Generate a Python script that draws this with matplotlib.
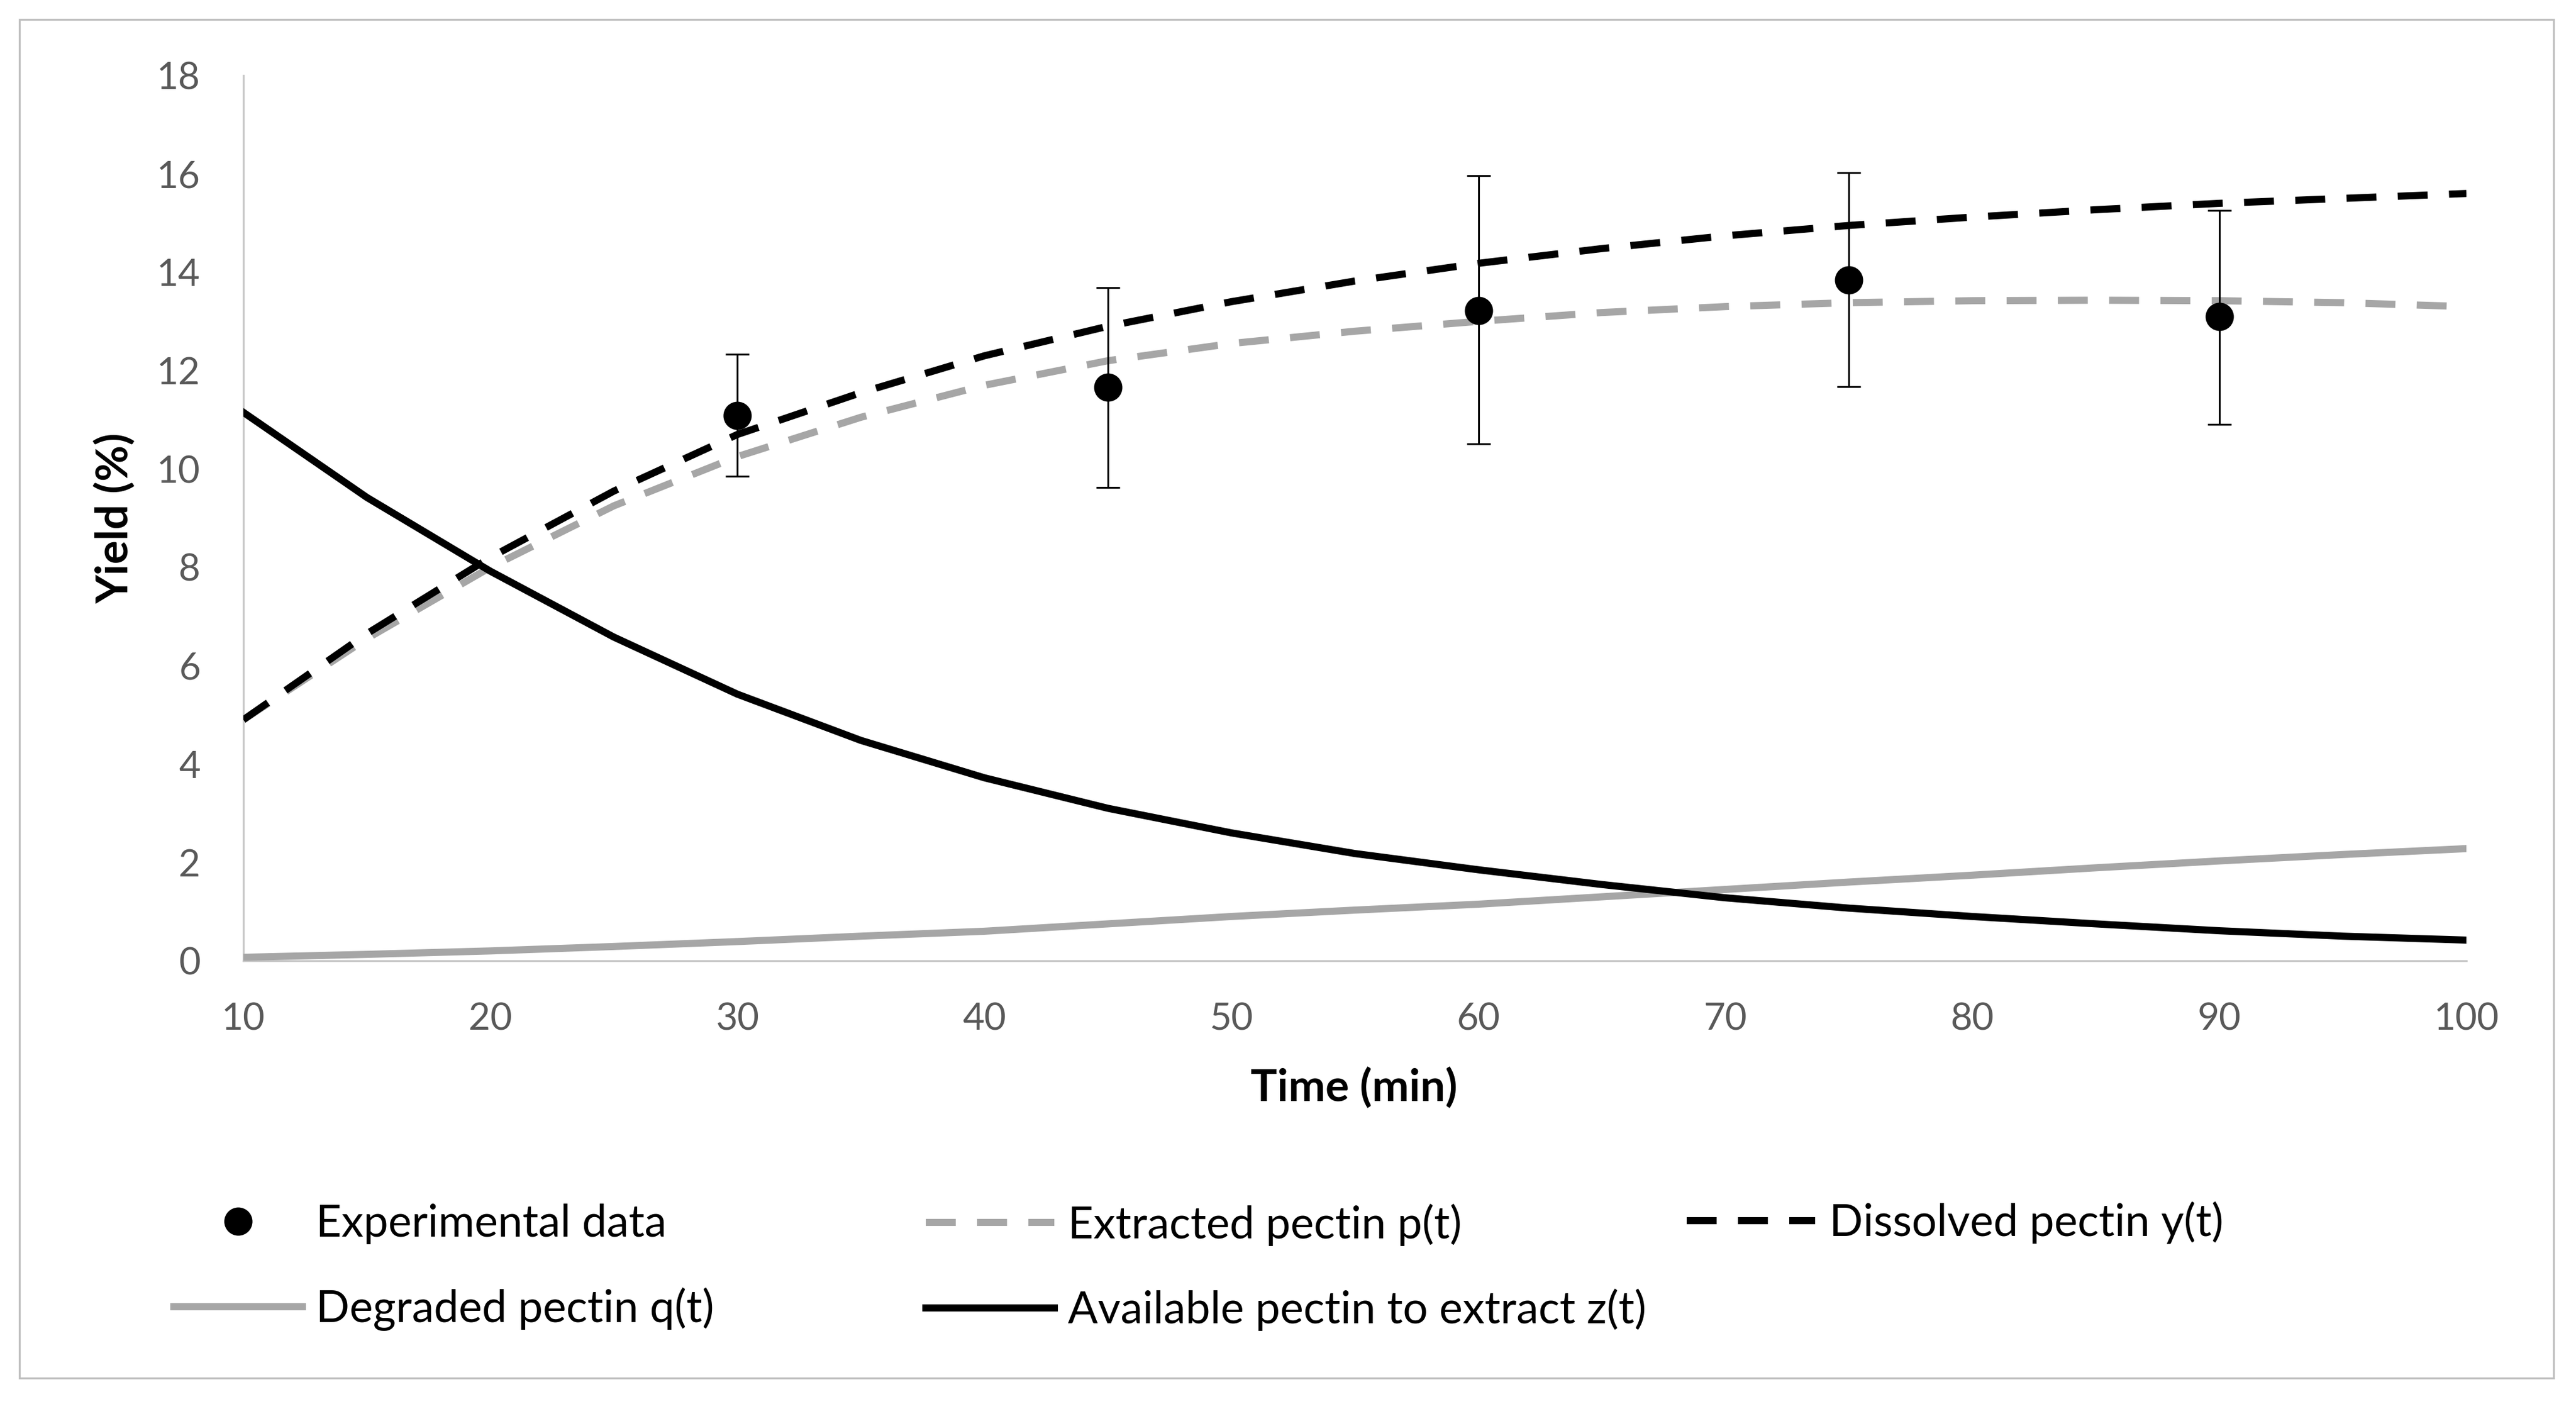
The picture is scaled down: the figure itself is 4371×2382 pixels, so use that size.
import matplotlib
matplotlib.use("Agg")
import matplotlib.pyplot as plt
from matplotlib.patches import Rectangle

plt.rcParams['font.family'] = ['Lato', 'DejaVu Sans']

# ---------------- data ----------------
t_exp = [30, 45, 60, 75, 90]
y_exp = [11.08, 11.66, 13.22, 13.84, 13.10]
err_up = [1.25, 2.03, 2.74, 2.18, 2.16]
err_dn = [1.23, 2.04, 2.71, 2.17, 2.19]

t_model = [10, 15, 20, 25, 30, 35, 40, 45, 50, 55, 60, 65, 70, 75, 80, 85, 90, 95, 100]
p_extracted = [4.90, 6.55, 8.00, 9.25, 10.25, 11.05, 11.70, 12.20, 12.55, 12.80, 13.00,
               13.18, 13.30, 13.38, 13.42, 13.43, 13.42, 13.38, 13.30]
y_dissolved = [4.90, 6.65, 8.20, 9.55, 10.70, 11.55, 12.30, 12.90, 13.40, 13.82, 14.18,
               14.48, 14.74, 14.95, 15.12, 15.27, 15.40, 15.50, 15.60]
q_degraded = [0.07, 0.13, 0.20, 0.29, 0.39, 0.50, 0.60, 0.75, 0.90, 1.03, 1.15,
              1.30, 1.45, 1.60, 1.74, 1.89, 2.03, 2.16, 2.28]
z_available = [11.15, 9.42, 7.92, 6.58, 5.42, 4.48, 3.72, 3.10, 2.60, 2.18, 1.85,
               1.55, 1.28, 1.07, 0.90, 0.75, 0.61, 0.50, 0.42]

labels = ["Experimental data", "Extracted pectin p(t)", "Dissolved pectin y(t)",
          "Degraded pectin q(t)", "Available pectin to extract z(t)"]
x_ticks = [10, 20, 30, 40, 50, 60, 70, 80, 90, 100]
y_ticks = [0, 2, 4, 6, 8, 10, 12, 14, 16, 18]

GRAY = '#a6a6a6'
TICK_COLOR = '#595959'

W, H = 4371, 2382
fig = plt.figure(figsize=(W / 300, H / 300), dpi=300)
fig.patch.set_facecolor('white')

# outer border
fig.add_artist(Rectangle((33 / W, 1 - 2338 / H), 4300 / W, 2305 / H,
                         transform=fig.transFigure, fill=False,
                         edgecolor='#bfbfbf', linewidth=0.8))

ax = fig.add_axes([413 / W, 1 - 1630 / H, (4185 - 413) / W, (1630 - 128) / H])

lw = 2.9
dash = (0, (4.2, 3.0))

ax.errorbar(t_exp, y_exp, yerr=[err_dn, err_up], fmt='none', ecolor='black',
            elinewidth=0.75, capsize=4.7, capthick=0.75, zorder=6)
h_exp, = ax.plot(t_exp, y_exp, 'o', color='black', markersize=10.5,
                 linestyle='none', label=labels[0], zorder=7)
h_p, = ax.plot(t_model, p_extracted, color=GRAY, linewidth=lw, linestyle=dash,
               label=labels[1], zorder=3)
h_y, = ax.plot(t_model, y_dissolved, color='black', linewidth=lw, linestyle=dash,
               label=labels[2], zorder=4)
h_q, = ax.plot(t_model, q_degraded, color=GRAY, linewidth=lw, label=labels[3], zorder=3)
h_z, = ax.plot(t_model, z_available, color='black', linewidth=lw, label=labels[4], zorder=4)

ax.set_xlim(10, 100)
ax.set_ylim(0, 18)
ax.set_xticks(x_ticks)
ax.set_yticks(y_ticks)
ax.tick_params(axis='both', length=0, labelsize=15.3, labelcolor=TICK_COLOR)
ax.tick_params(axis='y', pad=17.5)
ax.tick_params(axis='x', pad=17)

for s in ['top', 'right']:
    ax.spines[s].set_visible(False)
for s in ['left', 'bottom']:
    ax.spines[s].set_color('#c8c8c8')
    ax.spines[s].set_linewidth(0.8)

ax.set_xlabel("Time (min)", fontsize=18, fontweight='bold', color='black')
ax.set_ylabel("Yield (%)", fontsize=18, fontweight='bold', color='black')
ax.xaxis.set_label_coords(0.4995, -0.1438)
ax.xaxis.label.set_va('center')
ax.yaxis.set_label_coords(-0.0578, 0.50)
ax.yaxis.label.set_va('center')

leg_kw = dict(frameon=False, fontsize=18, handlelength=2.9, handletextpad=0.32,
              borderpad=0, borderaxespad=0, labelspacing=0.97, loc='center left')
leg1 = fig.legend([h_exp, h_q], [labels[0], labels[3]],
                  bbox_to_anchor=(295 / W, 1 - 2150 / H), **leg_kw)
leg2 = fig.legend([h_p, h_z], [labels[1], labels[4]],
                  bbox_to_anchor=(1571 / W, 1 - 2150 / H), **leg_kw)
leg3 = fig.legend([h_y], [labels[2]],
                  bbox_to_anchor=(2862 / W, 1 - 2075 / H), **leg_kw)

fig.savefig("out.png", dpi=300, facecolor='white')
